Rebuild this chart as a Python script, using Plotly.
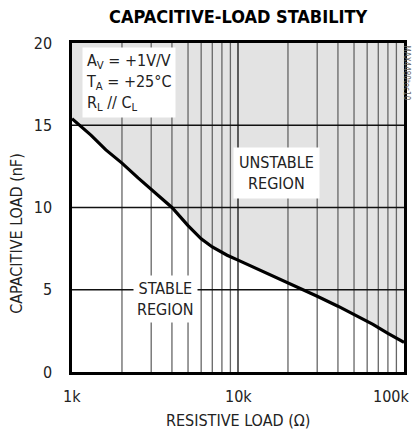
import math
import plotly.graph_objects as go

# Data
resistance_ohm = [1000, 1300, 1600, 2000, 2500, 3000, 4000, 5000, 6000, 7000, 8600, 10000,
                  15000, 20000, 30000, 40000, 50000, 65000, 80000, 100000]
capacitance_nf = [15.4, 14.4, 13.5, 12.7, 11.8, 11.1, 10.0, 8.9, 8.1, 7.6, 7.1, 6.8,
                  6.0, 5.4, 4.6, 4.0, 3.5, 2.9, 2.35, 1.8]
x_tickvals = [1000, 10000, 100000]
x_ticktext = ["1k", "10k", "100k"]
y_tickvals = [0, 5, 10, 15, 20]
y_max = 20

FONT = "DejaVu Sans Condensed, Liberation Sans Narrow, Roboto, sans-serif"

fig = go.Figure()

# Shaded unstable region (between curve and top)
fig.add_trace(go.Scatter(x=resistance_ohm, y=[y_max] * len(resistance_ohm), mode="lines",
                         line=dict(width=0, color="rgba(0,0,0,0)"), hoverinfo="skip", showlegend=False))
fig.add_trace(go.Scatter(x=resistance_ohm, y=capacitance_nf, mode="lines", fill="tonexty",
                         fillcolor="#e3e3e3", line=dict(width=0, color="rgba(0,0,0,0)"),
                         hoverinfo="skip", showlegend=False))

# Grid lines drawn above the shading
minor_x, minor_y = [], []
for dec in [1000, 10000]:
    for m in range(2, 10):
        minor_x += [dec * m, dec * m, None]
        minor_y += [0, y_max, None]
fig.add_trace(go.Scatter(x=minor_x, y=minor_y, mode="lines", line=dict(color="#666", width=1.3),
                         hoverinfo="skip", showlegend=False))
major_x = [10000, 10000, None]
major_y = [0, y_max, None]
for v in y_tickvals[1:-1]:
    major_x += [1000, 100000, None]
    major_y += [v, v, None]
fig.add_trace(go.Scatter(x=major_x, y=major_y, mode="lines", line=dict(color="#111", width=1.3),
                         hoverinfo="skip", showlegend=False))

# Stability boundary
fig.add_trace(go.Scatter(x=resistance_ohm, y=capacitance_nf, mode="lines",
                         line=dict(color="#000", width=3.2), showlegend=False))

# X tick labels (last one kept inside the page, as in the reference)
x_label_annotations = []
for i, (v, t) in enumerate(zip(x_tickvals, x_ticktext)):
    last = i == len(x_tickvals) - 1
    x_label_annotations.append(dict(
        text=t, xref="x", yref="paper", x=math.log10(v), y=0, yshift=-24,
        xanchor="right" if last else "center", xshift=7 if last else 0,
        yanchor="middle", showarrow=False, font=dict(size=16)))

fig.update_layout(
    width=412, height=434,
    margin=dict(l=72, r=8, t=43, b=62, autoexpand=False),
    paper_bgcolor="white", plot_bgcolor="white",
    font=dict(family=FONT, size=16, color="#222"),
    showlegend=False,
    xaxis=dict(type="log", range=[3, 5], tickvals=x_tickvals, showticklabels=False,
               showgrid=False, zeroline=False, showline=True, linecolor="#000", linewidth=2.5,
               mirror=True, ticks="", automargin=False),
    yaxis=dict(range=[0, y_max], tickvals=y_tickvals, showgrid=False, zeroline=False,
               showline=True, linecolor="#000", linewidth=2.5, mirror=True,
               ticks="outside", ticklen=14, tickcolor="rgba(0,0,0,0)", automargin=False),
    annotations=x_label_annotations + [
        dict(text="<b>CAPACITIVE-LOAD STABILITY</b>", xref="paper", yref="paper", x=0.5, y=1,
             yshift=27, showarrow=False, font=dict(size=18, color="#000"), xanchor="center", yanchor="middle"),
        dict(text="RESISTIVE LOAD (Ω)", xref="paper", yref="paper", x=0.5, y=0, yshift=-48,
             showarrow=False, font=dict(size=16), xanchor="center", yanchor="middle"),
        dict(text="CAPACITIVE LOAD (nF)", xref="paper", yref="paper", x=0, xshift=-55, y=0.42,
             textangle=-90, showarrow=False, font=dict(size=16), xanchor="center", yanchor="middle"),
        dict(text="A<sub>V</sub> = +1V/V<br>T<sub>A</sub> = +25°C<br>R<sub>L</sub> // C<sub>L</sub>",
             xref="paper", yref="paper", x=0, xshift=10, y=1, yshift=-4, align="left",
             showarrow=False, font=dict(size=16), xanchor="left", yanchor="top",
             bgcolor="white", borderpad=3),
        dict(text="UNSTABLE<br>REGION", xref="paper", yref="paper", x=0.616, y=0.605,
             xanchor="center", yanchor="middle",
             showarrow=False, font=dict(size=16), bgcolor="white", borderpad=5, align="center"),
        dict(text="STABLE<br>REGION", xref="paper", yref="paper", x=0.283, y=0.223,
             xanchor="center", yanchor="middle",
             showarrow=False, font=dict(size=16), bgcolor="white", borderpad=3, align="center"),
        dict(text="MAX4480toc10", xref="paper", yref="paper", x=1, xshift=2, y=1, yshift=0,
             textangle=90, showarrow=False, font=dict(size=8, color="#666"), xanchor="center", yanchor="top"),
    ],
)

fig.write_html("out.html", config={"displayModeBar": False},
               post_script="document.body.style.margin='0';document.body.style.padding='0';")
